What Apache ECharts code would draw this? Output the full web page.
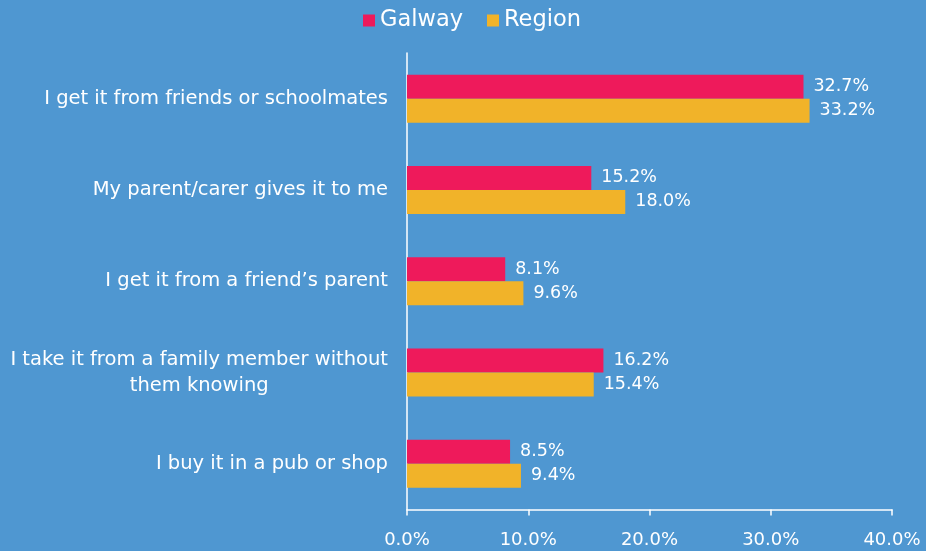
<!DOCTYPE html>
<html>
<head>
<meta charset="utf-8">
<script src="https://cdn.jsdelivr.net/npm/echarts@6/dist/echarts.min.js"></script>
<style>
html,body{margin:0;padding:0;background:#4f97d1;}
#c{width:926px;height:551px;}
</style>
</head>
<body>
<div id="c"></div>
<script>
const categories = [
  "I get it from friends or schoolmates",
  "My parent/carer gives it to me",
  "I get it from a friend’s parent",
  "I take it from a family member without\nthem knowing",
  "I buy it in a pub or shop"
];
const galway = [32.7, 15.2, 8.1, 16.2, 8.5];
const region = [33.2, 18.0, 9.6, 15.4, 9.4];
const xTicks = [0, 10, 20, 30, 40];

const FONT = "DejaVu Sans";
const chart = echarts.init(document.getElementById('c'));
const labelStyle = {
  show: true, position: 'right', distance: 10, color: '#ffffff',
  fontFamily: FONT, fontSize: 17.5,
  formatter: p => p.value.toFixed(1) + '%'
};
chart.setOption({
  backgroundColor: '#4f97d1',
  animation: false,
  legend: {
    top: 4, left: 358,
    icon: 'rect', itemWidth: 12, itemHeight: 12, itemGap: 24,
    textStyle: { color: '#ffffff', fontFamily: FONT, fontSize: 22.5 },
    data: ['Galway', 'Region']
  },
  grid: { left: 407, right: 34, top: 53, bottom: 41.5, containLabel: false },
  xAxis: {
    type: 'value', min: xTicks[0], max: xTicks[xTicks.length-1], interval: 10,
    axisLine: { show: true, lineStyle: { color: '#ffffff', width: 1.5 } },
    axisTick: { show: true, length: 6, lineStyle: { color: '#ffffff', width: 1.5 } },
    splitLine: { show: false },
    axisLabel: { color: '#ffffff', fontFamily: FONT, fontSize: 18, margin: 22,
      formatter: v => v.toFixed(1) + '%' }
  },
  yAxis: {
    type: 'category', data: categories, inverse: true,
    axisLine: { show: true, lineStyle: { color: '#ffffff', width: 1.5 } },
    axisTick: { show: false },
    axisLabel: {
      color: '#ffffff', fontFamily: FONT, fontSize: 19.5, margin: 19, lineHeight: 26,
      formatter: v => v.split('\n').map(s => '{c|' + s + '}').join('\n'),
      rich: { c: { align: 'center', color: '#ffffff', fontFamily: FONT, fontSize: 19.5, lineHeight: 26 } }
    }
  },
  series: [
    { name: 'Galway', type: 'bar', data: galway, barWidth: 24, barGap: '0%',
      itemStyle: { color: '#ee1a5b' }, label: labelStyle },
    { name: 'Region', type: 'bar', data: region, barWidth: 24, barGap: '0%',
      itemStyle: { color: '#f1b329' }, label: labelStyle }
  ]
});
</script>
</body>
</html>
